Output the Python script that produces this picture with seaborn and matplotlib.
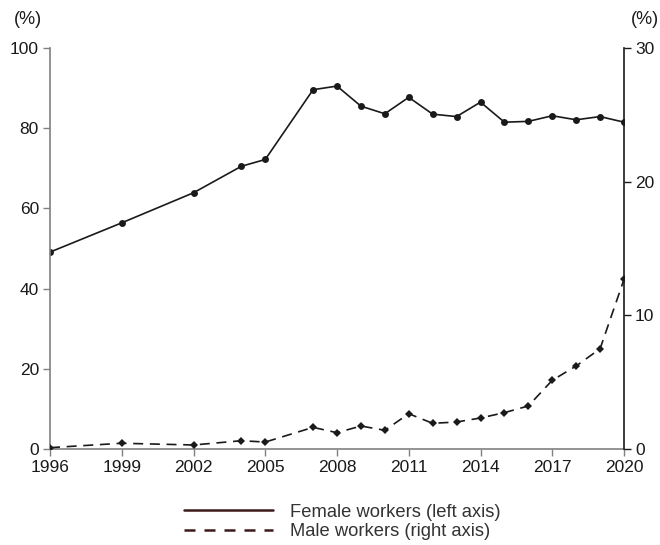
import matplotlib
matplotlib.use("Agg")
import matplotlib.pyplot as plt
import seaborn as sns
import pandas as pd
from matplotlib.lines import Line2D

years = [1996, 1999, 2002, 2004, 2005, 2007, 2008, 2009, 2010, 2011, 2012,
         2013, 2014, 2015, 2016, 2017, 2018, 2019, 2020]
female = [49.1, 56.4, 63.9, 70.5, 72.2, 89.6, 90.5, 85.5, 83.6, 87.7, 83.5,
          82.9, 86.5, 81.5, 81.7, 83.1, 82.1, 82.9, 81.5]
male = [0.1, 0.43, 0.3, 0.62, 0.52, 1.62, 1.22, 1.72, 1.40, 2.64, 1.92,
        2.02, 2.32, 2.72, 3.22, 5.14, 6.21, 7.50, 12.69]
xticks = [1996, 1999, 2002, 2005, 2008, 2011, 2014, 2017, 2020]
left_ticks = [0, 20, 40, 60, 80, 100]
right_ticks = [0, 10, 20, 30]
labels = ["Female workers (left axis)", "Male workers (right axis)"]

sns.set_style("white")
plt.rcParams["font.family"] = ["Liberation Sans", "DejaVu Sans"]

df = pd.DataFrame({"year": years, "female": female, "male": male})

fig = plt.figure(figsize=(6.6, 5.45), dpi=100)
ax = fig.add_axes([50/660, 1-449/545, (624-50)/660, (449-48)/545])
ax2 = ax.twinx()

sns.lineplot(data=df, x="year", y="female", ax=ax, color="#1a1a1a",
             linewidth=1.2, marker="o", markersize=5, markeredgewidth=0,
             legend=False)
sns.lineplot(data=df, x="year", y="male", ax=ax2, color="#1a1a1a",
             linewidth=1.2, marker="D", markersize=4, markeredgewidth=0,
             legend=False)
ax2.lines[0].set_dashes((6, 4))

ax.set_xlim(1996, 2020)
ax.set_ylim(0, 100)
ax2.set_ylim(0, 30)
ax.set_xticks(xticks)
ax.set_xticklabels([str(t) for t in xticks])
ax.set_yticks(left_ticks)
ax2.set_yticks(right_ticks)
ax.set_xlabel("")
ax.set_ylabel("")
ax2.set_ylabel("")

for a in (ax, ax2):
    a.spines["top"].set_visible(False)
ax.spines["right"].set_visible(False)
ax2.spines["left"].set_visible(False)
ax2.spines["bottom"].set_visible(False)
ax.spines["left"].set_color("#808080")
ax.spines["bottom"].set_color("#808080")
ax2.spines["right"].set_color("#1a1a1a")
for sp in ("left", "bottom"):
    ax.spines[sp].set_linewidth(1.2)
ax2.spines["right"].set_linewidth(1.2)

ax.tick_params(axis="both", direction="out", length=5, width=1,
               color="#808080", labelsize=12.5, labelcolor="#1a1a1a", pad=3,
               left=True, bottom=True)
ax2.tick_params(axis="y", direction="out", length=5, width=1,
                color="#1a1a1a", labelsize=12.5, labelcolor="#1a1a1a", pad=3,
                right=True)

fig.text(14/660, 1-20/545, "(%)", fontsize=13, color="#1a1a1a", va="center", ha="left")
fig.text(631/660, 1-20/545, "(%)", fontsize=13, color="#1a1a1a", va="center", ha="left")

handles = [Line2D([], [], color="#3a1a1a", linewidth=1.8, linestyle="-"),
           Line2D([], [], color="#3a1a1a", linewidth=1.8, dashes=(4.4, 3.6))]
fig.legend(handles, labels, loc="center", bbox_to_anchor=(342/660, 1-522/545),
           frameon=False, fontsize=13.2, handlelength=4.9, handletextpad=0.9,
           labelspacing=0.15, labelcolor="#333333", borderpad=0)

fig.savefig("out.png", dpi=100)
